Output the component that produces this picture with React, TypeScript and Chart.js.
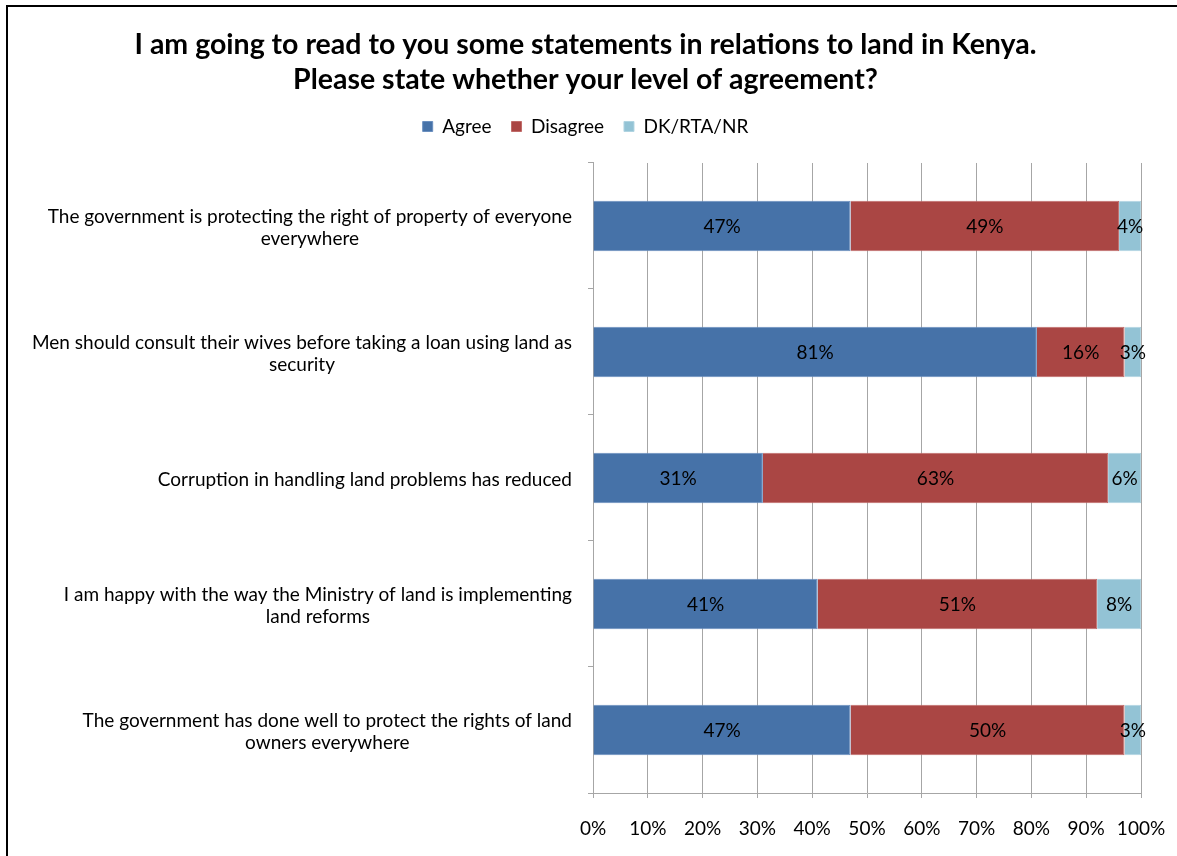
import React, { useEffect, useRef } from 'react';
import { Chart, registerables } from 'chart.js';

Chart.register(...registerables);

const titleLines = [
  'I am going to read to you some statements in relations to land in Kenya.',
  'Please state whether your level of agreement?',
];
const categories: string[][] = [
  ['The government is protecting the right of property of everyone', 'everywhere'],
  ['Men should consult their wives before taking a loan using land as', 'security'],
  ['Corruption in handling land problems has reduced'],
  ['I am happy with the way the Ministry of land is implementing', 'land reforms'],
  ['The government has done well to protect the rights of land', 'owners everywhere'],
];
const seriesNames = ['Agree', 'Disagree', 'DK/RTA/NR'];
const agree = [47, 81, 31, 41, 47];
const disagree = [49, 16, 63, 51, 50];
const dkRtaNr = [4, 3, 6, 8, 3];
const xTickValues = [0, 10, 20, 30, 40, 50, 60, 70, 80, 90, 100];

const FONT = 'Lato, "Open Sans", sans-serif';
const TEXT_SIZE = 19;

export default function App() {
  const ref = useRef<HTMLCanvasElement | null>(null);

  useEffect(() => {
    document.body.style.margin = '0';
    const canvas = ref.current!;

    const borderPlugin = {
      id: 'outerBorder',
      beforeDraw(chart: any) {
        const ctx = chart.ctx;
        ctx.save();
        ctx.fillStyle = '#ffffff';
        ctx.fillRect(0, 0, chart.width, chart.height);
        ctx.strokeStyle = '#000000';
        ctx.lineWidth = 2;
        ctx.strokeRect(7, 6, chart.width + 10, chart.height + 10);
        ctx.restore();
      },
    };

    const yLabelPlugin = {
      id: 'yLabels',
      afterDraw(chart: any) {
        const ctx = chart.ctx;
        const scale = chart.scales.y;
        ctx.save();
        ctx.font = `${TEXT_SIZE}px ${FONT}`;
        ctx.fillStyle = '#000000';
        ctx.textAlign = 'center';
        ctx.textBaseline = 'middle';
        const rightEdge = chart.chartArea.left - 21;
        categories.forEach((lines, i) => {
          const yc = scale.getPixelForValue(i) + 2;
          const maxW = Math.max(...lines.map((l) => ctx.measureText(l).width));
          const cx = rightEdge - maxW / 2;
          const lh = 22;
          const y0 = yc - ((lines.length - 1) * lh) / 2;
          lines.forEach((l, k) => ctx.fillText(l, cx, y0 + k * lh));
        });
        ctx.restore();
      },
    };

    const dataLabelPlugin = {
      id: 'dataLabels',
      afterDatasetsDraw(chart: any) {
        const ctx = chart.ctx;
        ctx.save();
        ctx.font = `${TEXT_SIZE}px ${FONT}`;
        ctx.fillStyle = '#000000';
        ctx.textAlign = 'center';
        ctx.textBaseline = 'middle';
        chart.data.datasets.forEach((ds: any, di: number) => {
          const meta = chart.getDatasetMeta(di);
          meta.data.forEach((el: any, i: number) => {
            const p = el.getProps(['x', 'y', 'base'], true);
            ctx.fillText(`${ds.data[i]}%`, (p.x + p.base) / 2, p.y + 1);
          });
        });
        ctx.restore();
      },
    };

    const chart = new Chart(canvas, {
      type: 'bar',
      data: {
        labels: categories.map((c) => c.join(' ')),
        datasets: [
          { label: seriesNames[0], data: agree, backgroundColor: '#4672A8', borderColor: '#6a8fbf', borderWidth: 1 },
          { label: seriesNames[1], data: disagree, backgroundColor: '#AA4644', borderColor: '#c06b69', borderWidth: 1 },
          { label: seriesNames[2], data: dkRtaNr, backgroundColor: '#93C3D5', borderColor: '#b0d4e1', borderWidth: 1 },
        ],
      },
      options: {
        indexAxis: 'y',
        responsive: false,
        animation: false,
        layout: { padding: { top: 0, left: 30, right: 36, bottom: 0 } },
        datasets: { bar: { categoryPercentage: 1, barPercentage: 0.4 } },
        scales: {
          x: {
            stacked: true,
            min: 0,
            max: 100,
            afterBuildTicks(scale: any) {
              scale.ticks = xTickValues.map((v) => ({ value: v }));
            },
            afterFit(scale: any) {
              scale.height = 63;
              scale.paddingLeft = 0;
              scale.paddingRight = 0;
            },
            ticks: {
              padding: 19.6,
              color: '#000000',
              font: { family: FONT, size: TEXT_SIZE },
              callback: (v: any) => `${v}%`,
              maxRotation: 0,
              autoSkip: false,
            },
            grid: { color: '#a6a6a6', lineWidth: 1, tickLength: 5, drawTicks: true },
            border: { color: '#a6a6a6', width: 1 },
          },
          y: {
            stacked: true,
            afterFit(scale: any) {
              scale.width = 563;
            },
            ticks: { display: false },
            grid: { drawOnChartArea: false, drawTicks: true, tickLength: 5, color: '#a6a6a6', offset: true },
            border: { color: '#a6a6a6', width: 1 },
          },
        },
        plugins: {
          title: {
            display: true,
            text: titleLines,
            color: '#000000',
            font: { family: FONT, size: 28.5, weight: 'bold', lineHeight: 1.228 },
            padding: { top: 27, bottom: 0 },
          },
          subtitle: {
            display: true,
            text: '',
            weight: 0,
            font: { size: 1, lineHeight: 1 },
            padding: { top: 16, bottom: 0 },
          },
          legend: {
            display: true,
            position: 'top',
            labels: {
              boxWidth: 10,
              boxHeight: 10,
              padding: 20,
              color: '#000000',
              font: { family: FONT, size: TEXT_SIZE },
            },
          },
          tooltip: { enabled: false },
        },
      },
      plugins: [borderPlugin, yLabelPlugin, dataLabelPlugin],
    } as any);

    return () => chart.destroy();
  }, []);

  return (
    <div style={{ width: 1177, height: 856 }}>
      <canvas ref={ref} width={1177} height={856} style={{ display: 'block' }} />
    </div>
  );
}
